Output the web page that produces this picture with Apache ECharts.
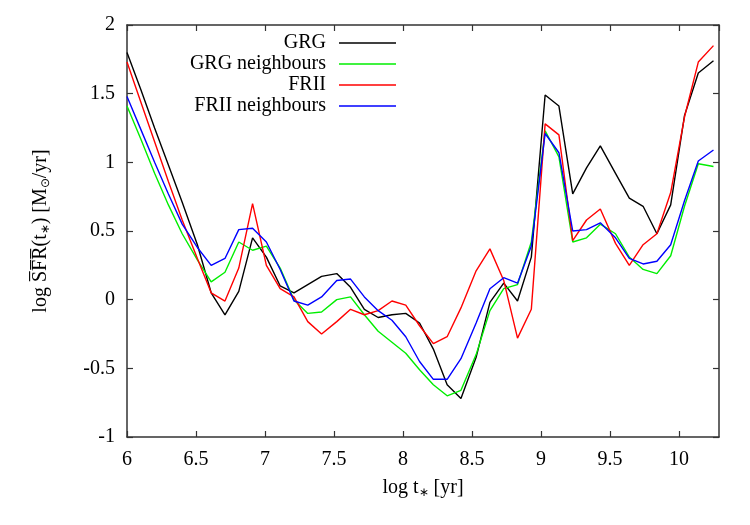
<!DOCTYPE html>
<html>
<head>
<meta charset="utf-8">
<script src="https://cdn.jsdelivr.net/npm/echarts@6/dist/echarts.min.js"></script>
<style>
  html, body { margin: 0; padding: 0; background: #fff; }
  #chart { width: 750px; height: 525px; }
</style>
</head>
<body>
<div id="chart"></div>
<script>
// log t* sample positions
const logT = [6.00, 6.10, 6.20, 6.30, 6.40, 6.51, 6.61, 6.71, 6.81, 6.91,
  7.01, 7.11, 7.21, 7.31, 7.41, 7.52, 7.62, 7.72, 7.82, 7.92,
  8.02, 8.12, 8.22, 8.32, 8.42, 8.53, 8.63, 8.73, 8.83, 8.93,
  9.03, 9.13, 9.23, 9.33, 9.43, 9.54, 9.64, 9.74, 9.84, 9.94,
  10.04, 10.14, 10.25]

const grg = [1.80, 1.53, 1.25, 0.98, 0.71, 0.40, 0.05, -0.11, 0.06, 0.45,
  0.31, 0.10, 0.05, 0.11, 0.17, 0.19, 0.09, -0.07, -0.13, -0.11,
  -0.10, -0.17, -0.36, -0.62, -0.72, -0.42, -0.02, 0.12, -0.01, 0.31,
  1.49, 1.41, 0.77, 0.96, 1.12, 0.92, 0.74, 0.68, 0.48, 0.69,
  1.34, 1.65, 1.74]

const grgNeighbours = [1.41, 1.17, 0.92, 0.69, 0.48, 0.29, 0.13, 0.20, 0.42, 0.36,
  0.39, 0.23, 0.00, -0.10, -0.09, 0.00, 0.02, -0.11, -0.23, -0.31,
  -0.39, -0.51, -0.62, -0.70, -0.66, -0.40, -0.08, 0.08, 0.11, 0.42,
  1.23, 1.04, 0.42, 0.45, 0.55, 0.48, 0.31, 0.22, 0.19, 0.32,
  0.68, 0.99, 0.97]

const frii = [1.73, 1.44, 1.15, 0.86, 0.58, 0.30, 0.05, -0.01, 0.23, 0.70,
  0.25, 0.08, 0.02, -0.16, -0.25, -0.16, -0.07, -0.11, -0.08, -0.01,
  -0.04, -0.19, -0.32, -0.27, -0.06, 0.21, 0.37, 0.14, -0.28, -0.07,
  1.28, 1.20, 0.43, 0.58, 0.66, 0.41, 0.25, 0.40, 0.48, 0.78,
  1.33, 1.73, 1.85]

const friiNeighbours = [1.48, 1.24, 1.00, 0.77, 0.55, 0.38, 0.25, 0.30, 0.51, 0.52,
  0.42, 0.22, -0.01, -0.04, 0.02, 0.14, 0.15, 0.02, -0.08, -0.15,
  -0.27, -0.45, -0.58, -0.58, -0.43, -0.17, 0.08, 0.16, 0.12, 0.39,
  1.21, 1.07, 0.50, 0.51, 0.56, 0.45, 0.30, 0.26, 0.28, 0.40,
  0.72, 1.01, 1.09]

const seriesNames = ['GRG', 'GRG neighbours', 'FRII', 'FRII neighbours']
const seriesColors = ['#000000', '#00ee00', '#ff0000', '#0000ff']
const seriesValues = [grg, grgNeighbours, frii, friiNeighbours]

const FONT = 'Liberation Serif'
const AXIS_COLOR = '#333'

const chart = echarts.init(document.getElementById('chart'))

function frameAxis(extra) {
  return Object.assign({
    type: 'value',
    axisLine: { show: true, onZero: false, lineStyle: { color: AXIS_COLOR, width: 1.5 } },
    axisTick: { show: true, inside: true, length: 6, lineStyle: { color: AXIS_COLOR, width: 1.2 } },
    splitLine: { show: false }
  }, extra)
}

chart.setOption({
  backgroundColor: '#fff',
  animation: false,
  grid: { left: 127, right: 31, top: 25, bottom: 88 },
  legend: {
    orient: 'vertical',
    right: 349,
    top: 28,
    align: 'right',
    itemWidth: 57,
    itemHeight: 1.5,
    itemGap: 1,
    icon: 'rect',
    textStyle: { fontFamily: FONT, fontSize: 20, color: '#000', lineHeight: 20, padding: [0, 8, 0, 0] },
    data: seriesNames
  },
  xAxis: [
    frameAxis({
      min: 6,
      max: 10.29,
      interval: 0.5,
      name: '{a|log t}{s|∗}{a| [yr]}',
      nameLocation: 'middle',
      nameGap: 40,
      nameTextStyle: {
        rich: {
          a: { fontFamily: FONT, fontSize: 20, color: '#000' },
          s: { fontFamily: FONT, fontSize: 12, color: '#000', padding: [10, 0, 0, 0] }
        }
      },
      axisLabel: {
        margin: 13,
        showMaxLabel: false,
        fontFamily: FONT,
        fontSize: 20,
        color: '#000',
        formatter: v => (Math.abs(v * 2 - Math.round(v * 2)) < 1e-6 ? String(v) : '')
      }
    }),
    frameAxis({
      position: 'top',
      min: 6,
      max: 10.29,
      interval: 0.5,
      axisLabel: { show: false }
    })
  ],
  yAxis: [
    frameAxis({
      min: -1,
      max: 2,
      interval: 0.5,
      name: '{a|log S̅F̅R̅(t}{s|∗}{a|) [M}{s|⊙}{a|/yr]}',
      nameLocation: 'middle',
      nameGap: 75,
      nameRotate: 90,
      nameTextStyle: {
        rich: {
          a: { fontFamily: FONT, fontSize: 20, color: '#000' },
          s: { fontFamily: FONT, fontSize: 12, color: '#000', padding: [10, 0, 0, 0] }
        }
      },
      axisLabel: { margin: 12, fontFamily: FONT, fontSize: 20, color: '#000' }
    }),
    frameAxis({
      position: 'right',
      min: -1,
      max: 2,
      interval: 0.5,
      axisLabel: { show: false }
    })
  ],
  series: seriesNames.map((name, i) => ({
    name: name,
    type: 'line',
    symbol: 'none',
    color: seriesColors[i],
    lineStyle: { color: seriesColors[i], width: 1.4 },
    data: logT.map((t, j) => [t, seriesValues[i][j]])
  }))
})
</script>
</body>
</html>
